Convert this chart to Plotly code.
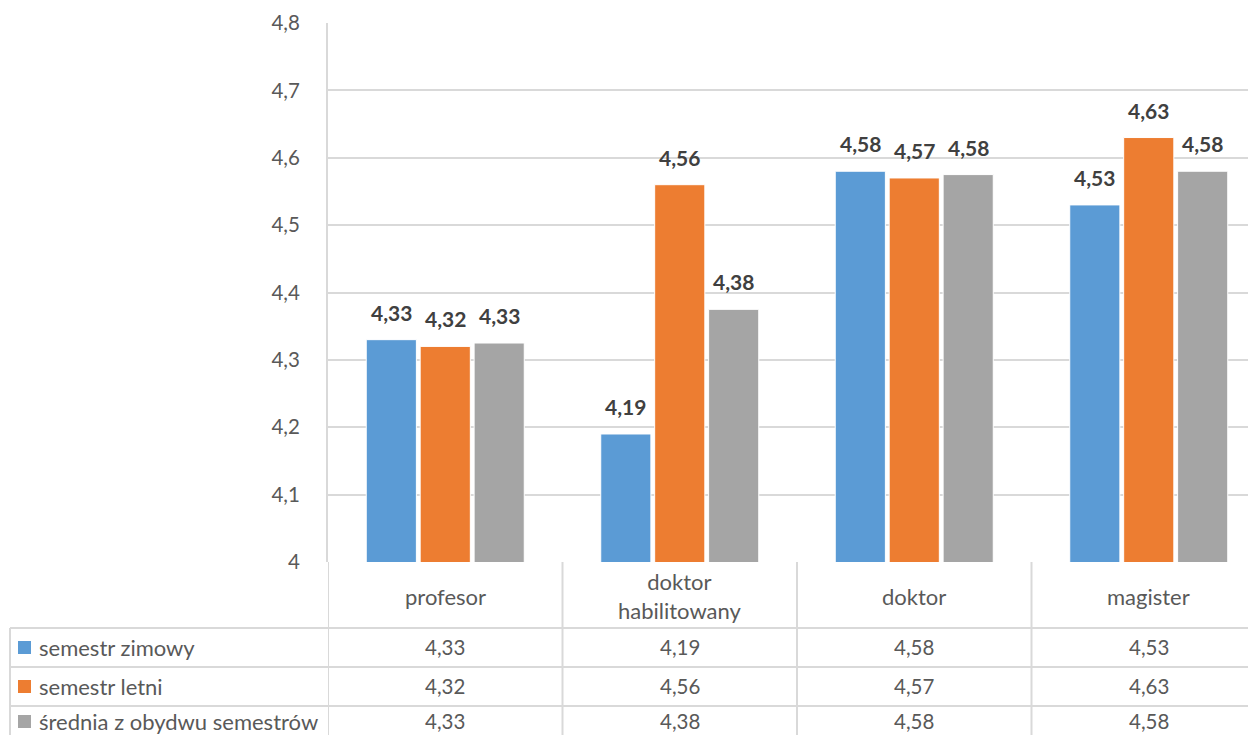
import plotly.graph_objects as go

categories = ["profesor", "doktor habilitowany", "doktor", "magister"]
category_labels = ["profesor", "doktor<br>habilitowany", "doktor", "magister"]
series_names = ["semestr zimowy", "semestr letni", "średnia z obydwu semestrów"]
zimowy = [4.33, 4.19, 4.58, 4.53]
letni = [4.32, 4.56, 4.57, 4.63]
srednia = [4.325, 4.375, 4.575, 4.58]
colors = ["#5B9BD5", "#ED7D31", "#A5A5A5"]
y_ticks = [4.0, 4.1, 4.2, 4.3, 4.4, 4.5, 4.6, 4.7, 4.8]

series = [zimowy, letni, srednia]

OFF = 8  # page body margin
W, H = 1256 - OFF, 735 - OFF
ML, MT = 328 - OFF, 23 - OFF
BOT = 562 - OFF  # plot bottom in figure px
MB = H - BOT
plot_w = W - ML
plot_h = H - MT - MB
FONT = "Lato"
GRID = "#D9D9D9"
TXT = "#595959"
FS_TXT = 22
FS_NUM = 20.5

bargap = 0.31
bargroupgap = 0.07

def fmt(v):
    return f"{v:.2f}".replace(".", ",")

def py(p):  # reference pixel y -> paper
    return (BOT - (p - OFF)) / plot_h

def px(p):  # reference pixel x -> paper
    return (p - OFF - ML) / plot_w

fig = go.Figure()
for name, vals, c in zip(series_names, series, colors):
    fig.add_trace(go.Bar(x=categories, y=vals, name=name, marker_color=c,
                         marker_line=dict(color="white", width=1),
                         showlegend=False))

annotations = []
shapes = []
slot = (1 - bargap) / 3
# data labels above bars
for si, vals in enumerate(series):
    off = (si - 1) * slot
    for ci, v in enumerate(vals):
        annotations.append(dict(x=ci + off, y=v, xref="x", yref="y", text=fmt(v),
                                showarrow=False, yanchor="bottom", yshift=13,
                                font=dict(family=FONT, size=21, color="#404040", weight="bold")))

# table rows
row_lines = [628, 667, 706]
row_centers = [647, 686, 721]
cat_center = 596
for ci, lab in enumerate(category_labels):
    annotations.append(dict(x=ci, y=py(cat_center), xref="x", yref="paper", text=lab,
                            showarrow=False, yanchor="middle",
                            font=dict(family=FONT, size=FS_TXT, color=TXT)))
for si, vals in enumerate(series):
    for ci, v in enumerate(vals):
        annotations.append(dict(x=ci, y=py(row_centers[si]), xref="x", yref="paper",
                                text=fmt(v), showarrow=False, yanchor="middle",
                                font=dict(family=FONT, size=FS_NUM, color=TXT)))
    annotations.append(dict(x=px(37), y=py(row_centers[si]), xref="paper", yref="paper",
                            text=series_names[si], showarrow=False, xanchor="left",
                            yanchor="middle",
                            font=dict(family=FONT, size=FS_TXT, color=TXT)))
    shapes.append(dict(type="rect", xref="paper", yref="paper",
                       x0=px(18), x1=px(31), y0=py(row_centers[si] + 7), y1=py(row_centers[si] - 6),
                       fillcolor=colors[si], line=dict(width=0)))

# horizontal table lines
for r in row_lines:
    shapes.append(dict(type="line", xref="paper", yref="paper", x0=px(10), x1=1,
                       y0=py(r), y1=py(r), line=dict(color=GRID, width=2)))
# vertical table lines
for b in range(len(categories)):
    shapes.append(dict(type="line", xref="x", yref="paper", x0=b - 0.5, x1=b - 0.5,
                       y0=0, y1=py(760), line=dict(color=GRID, width=2)))
shapes.append(dict(type="line", xref="paper", yref="paper", x0=px(10), x1=px(10),
                   y0=py(628), y1=py(760), line=dict(color=GRID, width=2)))

fig.update_layout(
    width=W, height=H,
    margin=dict(l=ML, r=0, t=MT, b=MB, autoexpand=False),
    paper_bgcolor="white", plot_bgcolor="white",
    barmode="group", bargap=bargap, bargroupgap=bargroupgap,
    separators=", ",
    font=dict(family=FONT, color=TXT, size=FS_NUM),
    annotations=annotations, shapes=shapes,
    xaxis=dict(range=[-0.5, -0.5 + plot_w / 234.5], showticklabels=False,
               showgrid=False, zeroline=False, showline=False, fixedrange=True),
    yaxis=dict(range=[4.0, 4.8], tickvals=y_ticks, showgrid=True, gridcolor=GRID,
               gridwidth=1.6, zeroline=False, showline=True, linecolor=GRID, linewidth=2,
               ticks="", ticklabelstandoff=22, tickfont=dict(family=FONT, size=FS_NUM, color=TXT)),
)

fig.write_html("out.html")
